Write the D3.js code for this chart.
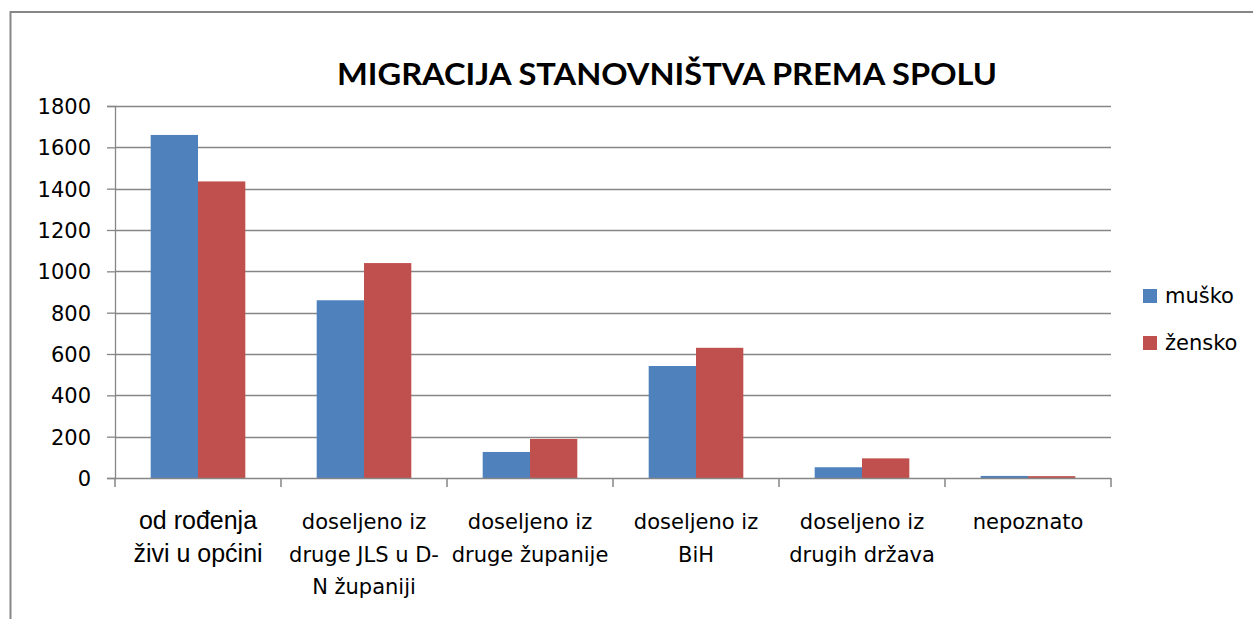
<!DOCTYPE html>
<html>
<head>
<meta charset="utf-8">
<script src="https://cdn.jsdelivr.net/npm/d3@7"></script>
<style>
  body { margin: 0; background: #fff; }
  svg { display: block; }
  .axis path, .axis line { stroke: #868686; }
  .tick-label { font-family: "DejaVu Sans", sans-serif; font-size: 21px; fill: #000; }
</style>
</head>
<body>
<svg id="chart" width="1253" height="619"></svg>
<script>
// Chart data
const categories = [
  'od rođenja\nživi u općini',
  'doseljeno iz\ndruge JLS u D-\nN županiji',
  'doseljeno iz\ndruge županije',
  'doseljeno iz\nBiH',
  'doseljeno iz\ndrugih država',
  'nepoznato'
];
const series = ['muško', 'žensko'];
const musko = [1660, 860, 126, 542, 52, 10];
const zensko = [1435, 1040, 189, 630, 95, 9];
const yTicks = [0, 200, 400, 600, 800, 1000, 1200, 1400, 1600, 1800];
const title = 'MIGRACIJA STANOVNIŠTVA PREMA SPOLU';
const colors = ['#4F81BD', '#C0504D'];

const width = 1253;
const height = 619;
const margin = { left: 115, right: 142, top: 106, bottom: 141 };
const drawWidth = width - margin.left - margin.right;
const drawHeight = height - margin.top - margin.bottom;

const svg = d3.select('#chart');

// Outer frame (runs off the right and bottom edges)
svg.append('rect')
  .attr('x', 10.5).attr('y', 12)
  .attr('width', 1260).attr('height', 640)
  .attr('fill', 'none')
  .attr('stroke', '#868686')
  .attr('stroke-width', 2);

// Title
svg.append('text')
  .attr('x', 667).attr('y', 85)
  .attr('text-anchor', 'middle')
  .attr('textLength', 660)
  .attr('lengthAdjust', 'spacingAndGlyphs')
  .style('font-family', 'Lato, sans-serif')
  .style('font-weight', 'bold')
  .style('font-size', '31px')
  .text(title);

// Scales
const xScale = d3.scaleBand()
  .domain(d3.range(categories.length))
  .range([0, drawWidth])
  .paddingInner(0.43)
  .paddingOuter(0.215);
const xInner = d3.scaleBand()
  .domain(series)
  .range([0, xScale.bandwidth()]);
const yScale = d3.scaleLinear()
  .domain([0, 1800])
  .range([drawHeight, 0]);

const chartArea = svg.append('g')
  .attr('transform', `translate(${margin.left}, ${margin.top})`);

// Gridlines
chartArea.append('g')
  .selectAll('line')
  .data(yTicks.filter(d => d > 0))
  .enter()
  .append('line')
  .attr('x1', 0)
  .attr('x2', drawWidth)
  .attr('y1', d => Math.round(yScale(d)) + 0.5)
  .attr('y2', d => Math.round(yScale(d)) + 0.5)
  .attr('stroke', '#868686')
  .attr('stroke-width', 1.3);

// Bars
const rows = categories.map((c, i) => [musko[i], zensko[i]]);
chartArea.append('g')
  .selectAll('g')
  .data(rows)
  .enter()
  .append('g')
  .attr('transform', (d, i) => `translate(${xScale(i)}, 0)`)
  .selectAll('rect')
  .data(d => d.map((v, j) => ({ key: series[j], value: v, j })))
  .enter()
  .append('rect')
  .attr('x', d => xInner(d.key))
  .attr('width', xInner.bandwidth())
  .attr('y', d => yScale(d.value))
  .attr('height', d => drawHeight - yScale(d.value))
  .attr('fill', d => colors[d.j]);

// Y axis
const yAxis = chartArea.append('g')
  .attr('class', 'axis')
  .call(d3.axisLeft(yScale)
    .tickValues(yTicks)
    .tickFormat(d3.format('d'))
    .tickSize(8)
    .tickPadding(16));
yAxis.select('.domain').attr('stroke-width', 1.3);
yAxis.selectAll('line').attr('stroke-width', 1.3);
yAxis.selectAll('text').attr('class', 'tick-label').attr('dy', '0.36em');

// X axis with ticks on category boundaries
const step = xScale.step();
const boundaries = d3.range(categories.length + 1).map(i => i * step);
const xAxisG = chartArea.append('g')
  .attr('transform', `translate(0, ${drawHeight})`);
xAxisG.append('line')
  .attr('x1', 0).attr('x2', drawWidth)
  .attr('y1', 0.5).attr('y2', 0.5)
  .attr('stroke', '#868686')
  .attr('stroke-width', 1.5);
xAxisG.selectAll('.xtick')
  .data(boundaries)
  .enter()
  .append('line')
  .attr('class', 'xtick')
  .attr('x1', d => d).attr('x2', d => d)
  .attr('y1', 0).attr('y2', 9)
  .attr('stroke', '#868686')
  .attr('stroke-width', 1.5);

// Category labels
xAxisG.selectAll('.xlabel')
  .data(categories)
  .enter()
  .append('text')
  .attr('class', 'xlabel')
  .attr('text-anchor', 'middle')
  .attr('transform', (d, i) => `translate(${xScale(i) + xScale.bandwidth() / 2}, 51)`)
  .style('font-family', (d, i) => i === 0 ? '"Liberation Sans", Arial, sans-serif' : '"DejaVu Sans", sans-serif')
  .style('font-size', (d, i) => i === 0 ? '25px' : '21px')
  .each(function(d) {
    const lines = d.split('\n');
    d3.select(this).selectAll('tspan')
      .data(lines)
      .enter()
      .append('tspan')
      .attr('x', 0)
      .attr('y', (l, k) => k * 32.5)
      .text(l => l);
  });

// Legend
const legend = svg.append('g')
  .attr('transform', 'translate(1143, 289)');
series.forEach((s, j) => {
  const row = legend.append('g').attr('transform', `translate(0, ${j * 47})`);
  row.append('rect')
    .attr('width', 14).attr('height', 14)
    .attr('fill', colors[j]);
  row.append('text')
    .attr('x', 22).attr('y', 14)
    .style('font-family', '"DejaVu Sans", sans-serif')
    .style('font-size', '21px')
    .text(s);
});
</script>
</body>
</html>
